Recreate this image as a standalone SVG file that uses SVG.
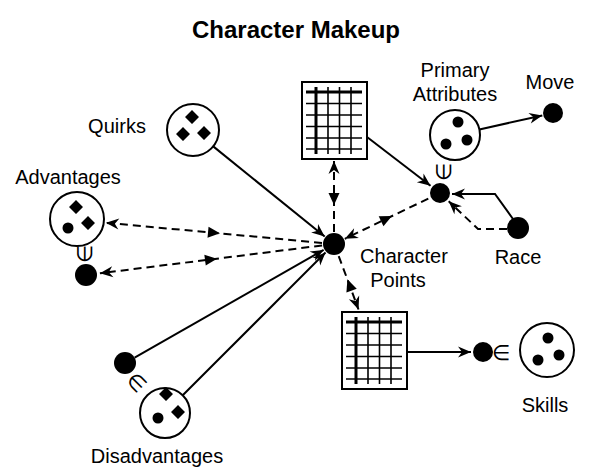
<svg xmlns="http://www.w3.org/2000/svg" xmlns:xlink="http://www.w3.org/1999/xlink" width="591" height="468" viewBox="0 0 591 468">
<style>
text{font-family:"Liberation Sans",Arial,sans-serif;fill:#000}
.lbl{font-size:20px;text-anchor:middle}
.title{font-size:24px;font-weight:bold;text-anchor:middle}
.sym{font-size:21px;text-anchor:middle;dominant-baseline:central}
.ring{fill:#fff;stroke:#000;stroke-width:2}
.dot{fill:#000}
.solid{fill:none;stroke:#000;stroke-width:2}
.dash{fill:none;stroke:#000;stroke-width:2;stroke-dasharray:8 5}
.thin{stroke:#000;stroke-width:1.6}
.thick{stroke:#000;stroke-width:3}
</style>
<defs>
<marker id="arr" markerUnits="userSpaceOnUse" markerWidth="14" markerHeight="12" refX="13" refY="5.5" orient="auto" overflow="visible">
<path d="M0,0 L13,5.5 L0,11 L4,5.5 z" fill="#000" stroke="none"/>
</marker>
<marker id="mid" markerUnits="userSpaceOnUse" markerWidth="13" markerHeight="12" refX="6" refY="5.5" orient="auto" overflow="visible">
<path d="M12,0 L0,5.5 L12,11 z" fill="#000" stroke="none"/>
</marker>
<g id="sheet">
<rect x="0" y="0" width="65" height="77" class="ring"/>
<line x1="4" y1="10" x2="60" y2="10" class="thick"/>
<line x1="4" y1="21.5" x2="60" y2="21.5" class="thin"/>
<line x1="4" y1="33" x2="60" y2="33" class="thin"/>
<line x1="4" y1="44.5" x2="60" y2="44.5" class="thin"/>
<line x1="4" y1="56" x2="60" y2="56" class="thin"/>
<line x1="4" y1="67" x2="60" y2="67" class="thin"/>
<line x1="14" y1="5" x2="14" y2="72" class="thick"/>
<line x1="26" y1="5" x2="26" y2="72" class="thin"/>
<line x1="37.5" y1="5" x2="37.5" y2="72" class="thin"/>
<line x1="49" y1="5" x2="49" y2="72" class="thin"/>
</g>
</defs>
<rect width="591" height="468" fill="#fff"/>
<text class="title" x="296" y="38">Character Makeup</text>

<g id="connectors">
<path class="solid" d="M213.2,146.4 L324.7,236.5" marker-end="url(#arr)"/>
<path class="dash" d="M322,242.9 L214,232.8 L105.9,222.8" marker-mid="url(#mid)" marker-end="url(#arr)"/>
<path class="dash" d="M322.1,245.5 L211,259.4 L99.9,273.3" marker-mid="url(#mid)" marker-end="url(#arr)"/>
<path class="dash" d="M334,232 L334,199 L334,161" marker-mid="url(#mid)" marker-end="url(#arr)"/>
<path class="dash" d="M428.3,198.6 L386.5,218.7 L344.8,238.8" marker-mid="url(#mid)" marker-end="url(#arr)"/>
<path class="dash" d="M338.7,256.1 L349.5,285 L358.5,309.5" marker-mid="url(#mid)" marker-end="url(#arr)"/>
<path class="solid" d="M134.6,357.6 L323.6,249.9" marker-end="url(#arr)"/>
<path class="solid" d="M182.7,395.3 L325.5,252.5" marker-end="url(#arr)"/>
<path class="solid" d="M367,137 L430.5,185.7" marker-end="url(#arr)"/>
<path class="solid" d="M479.4,129.5 L542.3,115.4" marker-end="url(#arr)"/>
<path class="solid" d="M513,219 L495,194 L452,194" marker-end="url(#arr)"/>
<path class="dash" d="M507,229 L478,229 L448.7,201.3" marker-end="url(#arr)"/>
<path class="solid" d="M407,352 L471,352" marker-end="url(#arr)"/>
</g>

<g id="character-points">
<circle cx="334" cy="244" r="11" class="dot"/>
<text class="lbl" x="404" y="263">Character</text>
<text class="lbl" x="398" y="287">Points</text>
</g>

<g id="quirks">
<circle cx="193" cy="130" r="26" class="ring"/>
<path class="dot" d="M192,110 l7,7 l-7,7 l-7,-7 z M183,127 l7,7 l-7,7 l-7,-7 z M204,126 l7,7 l-7,7 l-7,-7 z"/>
<text class="lbl" x="117" y="133">Quirks</text>
</g>

<g id="advantages">
<circle cx="77" cy="219" r="27" class="ring"/>
<path class="dot" d="M76,200 l7,7 l-7,7 l-7,-7 z M88,216 l7,7 l-7,7 l-7,-7 z"/>
<circle cx="68" cy="228" r="5.5" class="dot"/>
<text class="lbl" x="68" y="184">Advantages</text>
</g>

<g id="advantages-dot">
<circle cx="86" cy="275" r="11" class="dot"/>
<text class="sym" transform="rotate(-90 84 254)" x="84" y="254">∈</text>
</g>

<g id="sheet-top">
<use xlink:href="#sheet" href="#sheet" x="302" y="82"/>
</g>

<g id="sheet-bottom">
<use xlink:href="#sheet" href="#sheet" x="342" y="312"/>
</g>

<g id="primary-attributes">
<circle cx="455" cy="135" r="25" class="ring"/>
<circle cx="458" cy="122" r="5.5" class="dot"/>
<circle cx="446" cy="144" r="5.5" class="dot"/>
<circle cx="467" cy="140" r="5.5" class="dot"/>
<text class="lbl" x="455" y="77">Primary</text>
<text class="lbl" x="455" y="101">Attributes</text>
</g>

<g id="attributes-dot">
<circle cx="440" cy="193" r="10" class="dot"/>
<text class="sym" transform="rotate(-90 443 172)" x="443" y="172">∈</text>
</g>

<g id="move">
<circle cx="553" cy="113" r="10" class="dot"/>
<text class="lbl" x="550" y="89">Move</text>
</g>

<g id="race">
<circle cx="518" cy="228" r="11" class="dot"/>
<text class="lbl" x="518" y="264">Race</text>
</g>

<g id="skills-dot">
<circle cx="483" cy="352" r="10" class="dot"/>
<text class="sym" x="501" y="352">∈</text>
</g>

<g id="skills">
<circle cx="547" cy="350" r="27" class="ring"/>
<circle cx="548" cy="338" r="5.5" class="dot"/>
<circle cx="538" cy="360" r="5.5" class="dot"/>
<circle cx="559" cy="355" r="5.5" class="dot"/>
<text class="lbl" x="545" y="412">Skills</text>
</g>

<g id="disadvantages-dot">
<circle cx="125" cy="363" r="11" class="dot"/>
<text class="sym" transform="rotate(45 137 382)" x="137" y="382">∈</text>
</g>

<g id="disadvantages">
<circle cx="165" cy="413" r="25" class="ring"/>
<path class="dot" d="M166,387 l7,7 l-7,7 l-7,-7 z M178,405 l7,7 l-7,7 l-7,-7 z"/>
<circle cx="158" cy="418" r="5.5" class="dot"/>
<text class="lbl" x="157" y="463">Disadvantages</text>
</g>
</svg>
